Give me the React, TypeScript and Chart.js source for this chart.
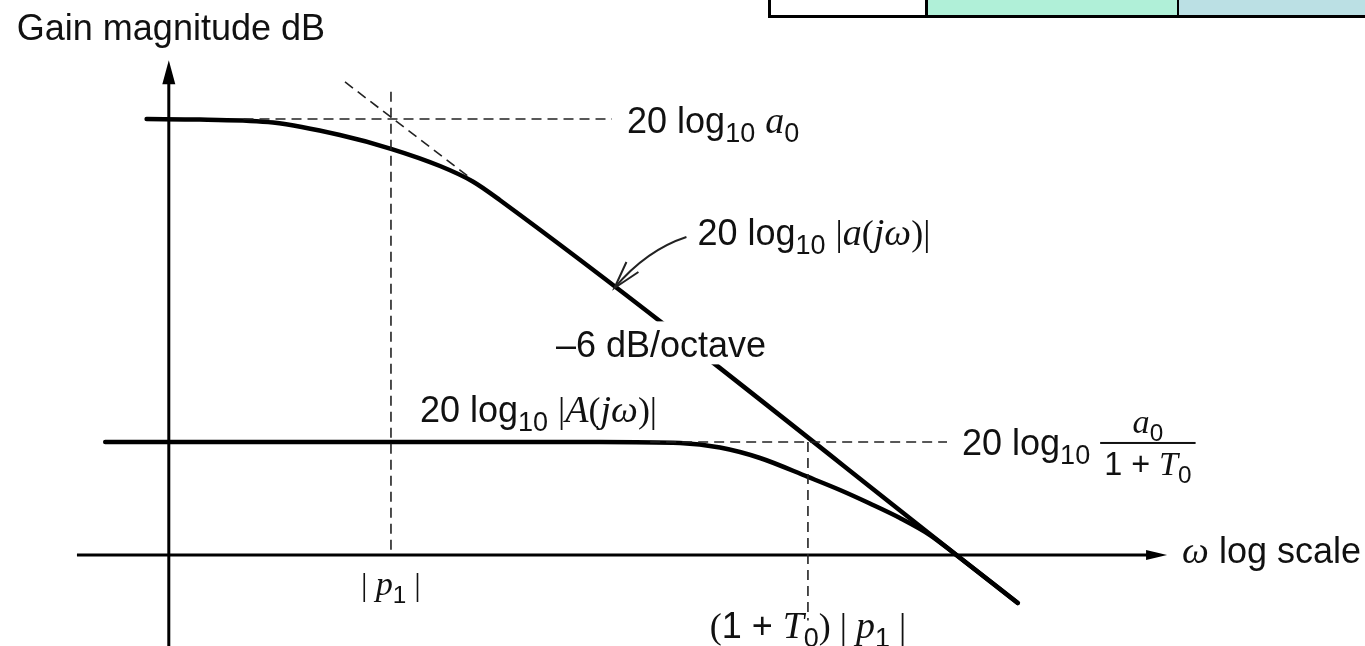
import { useEffect, useRef } from "react";
import { Chart, registerables } from "chart.js";

Chart.register(...registerables);

// Frequency is normalised to the open-loop pole: w = ω / |p1|. Gain in dB.
const openLoopW = [0.136, 0.21, 0.382, 0.659, 1.0, 1.492, 1.95, 2.43, 167];
const openLoopDb = [40, 39.95, 39.68, 38.53, 37.27, 35.69, 34.27, 32.57, -4.4];

const closedLoopW = [0.097, 5.5, 10.59, 14.68, 20.35, 30.1, 39.1, 49.9, 63.8, 81.5, 100, 167];
const closedLoopDb = [10.37, 10.37, 10.28, 9.86, 8.9, 7.16, 5.96, 4.72, 3.39, 1.83, 0.09, -4.4];

// Dashed construction lines
const lowFreqGainW = [0.3, 6.08];
const lowFreqGainDb = [40, 40];
const asymptoteW = [0.687, 1.91];
const asymptoteDb = [43.4, 34.6];
const poleMarkerW = [1, 1];
const poleMarkerDb = [42.5, 0];
const closedGainW = [8.3, 93.7];
const closedGainDb = [10.37, 10.37];
const closedPoleW = [30.1, 30.1];
const closedPoleDb = [10.37, -6.0];

// Diagram axes
const gainAxisW = 0.163;
const gainAxisTopDb = 45.4;
const freqAxisDb = 0;
const freqAxisStartW = 0.077;
const freqAxisEndW = 565;

// Pointer to the open-loop curve and the slope note on it
const pointerTipW = 6.2;
const pointerTipDb = 24.5;
const slopeNoteW = 10.85;
const slopeNoteDb = 19.6;

// Visible range
const W_MIN = 0.04108;
const W_MAX = 2843.6;
const DB_MIN = -8.35;
const DB_MAX = 50.92;

type Kind = "sans" | "sub" | "ital" | "rom";
type Seg = [Kind, string];

const yAxisTitle: Seg[] = [["sans", "Gain magnitude dB"]];
const xAxisTitle: Seg[] = [["ital", "ω"], ["sans", " log scale"]];
const openGainLabel: Seg[] = [["sans", "20 log"], ["sub", "10"], ["sans", " "], ["ital", "a"], ["sub", "0"]];
const openCurveLabel: Seg[] = [
  ["sans", "20 log"], ["sub", "10"], ["sans", " "], ["rom", "|"], ["ital", "a"], ["rom", "("],
  ["ital", "j"], ["ital", "ω"], ["rom", ")|"],
];
const slopeLabel: Seg[] = [["sans", "–6 dB/octave"]];
const closedCurveLabel: Seg[] = [
  ["sans", "20 log"], ["sub", "10"], ["sans", " "], ["rom", "|"], ["ital", "A"], ["rom", "("],
  ["ital", "j"], ["ital", "ω"], ["rom", ")|"],
];
const closedGainPrefix: Seg[] = [["sans", "20 log"], ["sub", "10"]];
const closedGainNum: Seg[] = [["ital", "a"], ["sub", "0"]];
const closedGainDen: Seg[] = [["sans", "1 + "], ["ital", "T"], ["sub", "0"]];
const poleTickLabel: Seg[] = [["rom", "| "], ["ital", "p"], ["sub", "1"], ["rom", " |"]];
const closedPoleTickLabel: Seg[] = [
  ["rom", "("], ["sans", "1 + "], ["ital", "T"], ["sub", "0"], ["rom", ") | "], ["ital", "p"], ["sub", "1"], ["rom", " |"],
];

const FONT_SANS = '"Liberation Sans", Arial, Helvetica, sans-serif';
const FONT_SERIF = '"Liberation Serif", "Times New Roman", serif';
const INK = "#111";

function segStyle(kind: Kind, s: number) {
  switch (kind) {
    case "sans":
      return { font: `${36 * s}px ${FONT_SANS}`, dy: 0 };
    case "sub":
      return { font: `${27 * s}px ${FONT_SANS}`, dy: 9 * s };
    case "ital":
      return { font: `italic ${38 * s}px ${FONT_SERIF}`, dy: 0 };
    default:
      return { font: `${36 * s}px ${FONT_SERIF}`, dy: 0 };
  }
}

function richWidth(ctx: CanvasRenderingContext2D, segs: Seg[], s = 1) {
  let w = 0;
  for (const [k, t] of segs) {
    ctx.font = segStyle(k, s).font;
    w += ctx.measureText(t).width;
  }
  return w;
}

function drawRich(
  ctx: CanvasRenderingContext2D,
  segs: Seg[],
  x: number,
  y: number,
  s = 1,
  align: "left" | "center" = "left"
) {
  let cx = align === "center" ? x - richWidth(ctx, segs, s) / 2 : x;
  for (const [k, t] of segs) {
    const st = segStyle(k, s);
    ctx.font = st.font;
    ctx.fillText(t, cx, y + st.dy);
    cx += ctx.measureText(t).width;
  }
  return cx;
}

const toPoints = (w: number[], db: number[]) => w.map((v, i) => ({ x: v, y: db[i] }));

const diagramPlugin = {
  id: "bodeDiagram",
  beforeDatasetsDraw(chart: any) {
    const ctx: CanvasRenderingContext2D = chart.ctx;
    const xs = chart.scales.x;
    const ys = chart.scales.y;
    const px = (w: number) => xs.getPixelForValue(w);
    const py = (db: number) => ys.getPixelForValue(db);
    ctx.save();
    ctx.strokeStyle = "#000";
    ctx.fillStyle = "#000";
    ctx.lineWidth = 3;

    // vertical gain axis with arrow
    const ax = px(gainAxisW);
    const aTop = py(gainAxisTopDb);
    ctx.beginPath();
    ctx.moveTo(ax, aTop + 10);
    ctx.lineTo(ax, chart.chartArea.bottom);
    ctx.stroke();
    ctx.beginPath();
    ctx.moveTo(ax, aTop);
    ctx.lineTo(ax - 6.5, aTop + 24);
    ctx.lineTo(ax + 6.5, aTop + 24);
    ctx.closePath();
    ctx.fill();

    // horizontal frequency axis with arrow
    const fy = py(freqAxisDb);
    const fEnd = px(freqAxisEndW);
    ctx.beginPath();
    ctx.moveTo(px(freqAxisStartW), fy);
    ctx.lineTo(fEnd - 10, fy);
    ctx.stroke();
    ctx.beginPath();
    ctx.moveTo(fEnd, fy);
    ctx.lineTo(fEnd - 21, fy - 5);
    ctx.lineTo(fEnd - 21, fy + 5);
    ctx.closePath();
    ctx.fill();
    ctx.restore();
  },
  afterDatasetsDraw(chart: any) {
    const ctx: CanvasRenderingContext2D = chart.ctx;
    const xs = chart.scales.x;
    const ys = chart.scales.y;
    const px = (w: number) => xs.getPixelForValue(w);
    const py = (db: number) => ys.getPixelForValue(db);
    ctx.save();
    ctx.fillStyle = INK;
    ctx.textBaseline = "alphabetic";

    // axis titles
    drawRich(ctx, yAxisTitle, px(gainAxisW) - 152, py(gainAxisTopDb) - 20);
    drawRich(ctx, xAxisTitle, px(freqAxisEndW) + 15, py(freqAxisDb) + 8);

    // open-loop low frequency gain
    drawRich(ctx, openGainLabel, px(lowFreqGainW[1]) + 15, py(lowFreqGainDb[1]) + 14);

    // curved pointer to the open-loop response
    const tx = px(pointerTipW);
    const ty = py(pointerTipDb);
    ctx.strokeStyle = "#222";
    ctx.lineWidth = 2;
    ctx.beginPath();
    ctx.moveTo(tx + 72, ty - 51);
    ctx.quadraticCurveTo(tx + 32, ty - 38, tx, ty);
    ctx.stroke();
    ctx.beginPath();
    ctx.moveTo(tx + 12, ty - 26);
    ctx.lineTo(tx, ty);
    ctx.lineTo(tx + 24, ty - 16);
    ctx.stroke();
    drawRich(ctx, openCurveLabel, tx + 83, ty - 43);

    // slope note, knocked out of the line behind it
    const sx = px(slopeNoteW);
    const sy = py(slopeNoteDb);
    const sw = richWidth(ctx, slopeLabel);
    ctx.fillStyle = "#fff";
    ctx.fillRect(sx - 22 - sw / 2 - 4, sy - 20, sw + 8, 43);
    ctx.fillStyle = INK;
    drawRich(ctx, slopeLabel, sx - 22, sy + 16, 1, "center");

    // closed-loop response label
    drawRich(ctx, closedCurveLabel, px(1) + 29, py(closedGainDb[0]) - 20);

    // closed-loop low frequency gain with fraction
    const gy = py(closedGainDb[1]);
    const endPrefix = drawRich(ctx, closedGainPrefix, px(closedGainW[1]) + 15, gy + 13);
    const nw = richWidth(ctx, closedGainNum, 0.9);
    const dw = richWidth(ctx, closedGainDen, 0.9);
    const barW = Math.max(nw, dw) + 8;
    const barL = endPrefix + 10;
    const barY = gy + 1;
    ctx.fillRect(barL, barY - 1, barW, 2);
    drawRich(ctx, closedGainNum, barL + barW / 2, barY - 10, 0.9, "center");
    drawRich(ctx, closedGainDen, barL + barW / 2, barY + 32, 0.9, "center");

    // frequency marks under the axis
    drawRich(ctx, poleTickLabel, px(poleMarkerW[0]), py(freqAxisDb) + 40, 0.9, "center");
    drawRich(ctx, closedPoleTickLabel, px(closedPoleW[0]), py(freqAxisDb) + 83, 1, "center");
    ctx.restore();
  },
};

const solid = { showLine: true, borderColor: "#000", borderWidth: 4.5, pointRadius: 0, fill: false, cubicInterpolationMode: "monotone" as const, borderCapStyle: "round" as const, borderJoinStyle: "round" as const };
const dashed = { showLine: true, borderColor: "#222", borderWidth: 1.6, pointRadius: 0, fill: false, borderDash: [10, 6] };

export default function App() {
  const canvasRef = useRef<HTMLCanvasElement | null>(null);

  useEffect(() => {
    if (!canvasRef.current) return;
    const chart = new Chart(canvasRef.current, {
      type: "scatter",
      data: {
        datasets: [
          { ...dashed, data: toPoints(lowFreqGainW, lowFreqGainDb) },
          { ...dashed, data: toPoints(asymptoteW, asymptoteDb) },
          { ...dashed, data: toPoints(poleMarkerW, poleMarkerDb) },
          { ...dashed, data: toPoints(closedGainW, closedGainDb) },
          { ...dashed, data: toPoints(closedPoleW, closedPoleDb) },
          { ...solid, data: toPoints(openLoopW, openLoopDb) },
          { ...solid, data: toPoints(closedLoopW, closedLoopDb) },
        ] as any,
      },
      options: {
        animation: false,
        responsive: false,
        devicePixelRatio: 1,
        events: [],
        layout: { padding: 0 },
        plugins: { legend: { display: false }, tooltip: { enabled: false } },
        scales: {
          x: { type: "logarithmic", min: W_MIN, max: W_MAX, display: false, bounds: "data" },
          y: { type: "linear", min: DB_MIN, max: DB_MAX, display: false },
        },
      },
      plugins: [diagramPlugin],
    });
    return () => chart.destroy();
  }, []);

  return (
    <div style={{ position: "fixed", left: 0, top: 0, width: 1365, height: 646, background: "#fff", overflow: "hidden" }}>
      <div style={{ position: "absolute", left: 928, top: 0, width: 249, height: 15, background: "#B0F0D8" }} />
      <div style={{ position: "absolute", left: 1179, top: 0, width: 186, height: 15, background: "#BBE0E4" }} />
      <div style={{ position: "absolute", left: 768, top: 0, width: 3, height: 18, background: "#000" }} />
      <div style={{ position: "absolute", left: 925, top: 0, width: 3, height: 15, background: "#000" }} />
      <div style={{ position: "absolute", left: 1177, top: 0, width: 2, height: 15, background: "#000" }} />
      <div style={{ position: "absolute", left: 768, top: 15, width: 597, height: 3, background: "#000" }} />
      <canvas ref={canvasRef} width={1365} height={646} style={{ position: "absolute", left: 0, top: 0, display: "block" }} />
    </div>
  );
}
